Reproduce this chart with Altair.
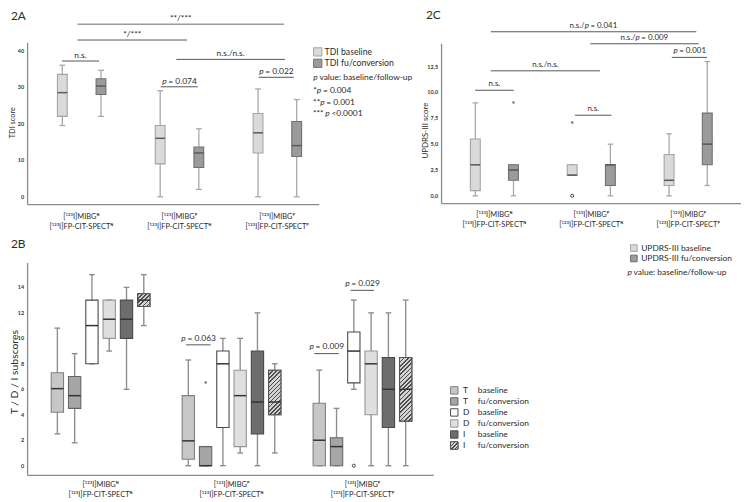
import altair as alt
import pandas as pd

# ============================================================ data
group_labels = [
    "[¹²³I]MIBGᴺ\n[¹²³I]FP-CIT-SPECTᴺ",
    "[¹²³I]MIBGᴾ\n[¹²³I]FP-CIT-SPECTᴺ",
    "[¹²³I]MIBGᴾ\n[¹²³I]FP-CIT-SPECTᴾ",
]

# five-number summaries per group: (min, Q1, median, Q3, max)
tdi_baseline = [[19.5, 22.0, 28.5, 33.5, 36.0], [0.0, 9.0, 16.0, 19.5, 29.0], [0.0, 12.0, 17.5, 22.8, 29.5]]
tdi_followup = [[22.0, 28.0, 30.3, 32.3, 34.6], [2.0, 8.0, 12.0, 13.6, 18.6], [0.0, 11.0, 14.0, 20.6, 26.6]]

updrs_baseline = [[0, 0.5, 3, 5.5, 9], [2, 2, 2, 3, 3], [0, 1, 1.5, 4, 6]]
updrs_followup = [[0, 1.5, 2.5, 3, 3], [0, 1, 3, 3, 5], [1, 3, 5, 8, 13]]

t_baseline = [[2.5, 4.2, 6.05, 7.3, 10.8], [0, 0.5, 1.95, 5.5, 8.3], [0, 0, 2.0, 4.9, 7.5]]
t_followup = [[1.8, 4.5, 5.5, 7.0, 8.8], [0, 0, 0, 1.5, 1.5], [0, 0, 1.5, 2.2, 4.5]]
d_baseline = [[8, 8, 11, 13, 15], [0, 3, 8, 9, 10], [6, 6.5, 9, 10.5, 13]]
d_followup = [[9, 10, 11.5, 13, 13], [1, 1.5, 5.5, 7.5, 10], [0, 4, 8, 9, 12]]
i_baseline = [[6, 10, 11.5, 13, 14], [0, 2.5, 5, 9, 12], [0, 3, 6, 8.5, 12]]
i_followup = [[11, 12.5, 13, 13.5, 15], [1, 4, 5, 7.5, 8], [0, 3.5, 6, 8.5, 13]]

tdi_series = ["TDI baseline", "TDI fu/conversion"]
updrs_series = ["UPDRS-III baseline", "UPDRS-III fu/conversion"]
sub_series = ["T baseline", "T fu/conversion", "D baseline", "D fu/conversion", "I baseline", "I fu/conversion"]

# single outlying values
updrs_out_group = [2, 2, 1]
updrs_out_series = ["UPDRS-III baseline", "UPDRS-III baseline", "UPDRS-III fu/conversion"]
updrs_out_value = [7, 0, 9]
updrs_out_kind = ["extreme", "outlier", "extreme"]
sub_out_group = [2, 3]
sub_out_series = ["T fu/conversion", "D baseline"]
sub_out_value = [6.5, 0]
sub_out_kind = ["extreme", "outlier"]

# significance brackets: label, from / to (group position), height (score)
tdi_sig_label = ["**/***", "*/***", "n.s.", "n.s./n.s.", "p = 0.074", "p = 0.022"]
tdi_sig_from = [0.96, 0.96, 0.80, 1.97, 1.81, 2.81]
tdi_sig_to = [3.07, 2.08, 1.18, 3.08, 2.19, 3.17]
tdi_sig_y = [47.2, 42.9, 37.15, 37.6, 30.1, 32.7]

updrs_sig_label = ["n.s./p = 0.041", "n.s./p = 0.009", "p = 0.001", "n.s./n.s.", "n.s.", "n.s."]
updrs_sig_from = [0.963, 1.99, 2.831, 0.963, 0.801, 1.831]
updrs_sig_to = [3.084, 3.108, 3.195, 2.09, 1.199, 2.209]
updrs_sig_y = [15.88, 14.72, 13.4, 12.1, 10.22, 7.8]

sub_sig_label = ["p = 0.063", "p = 0.009", "p = 0.029"]
sub_sig_from = [1.653, 2.632, 2.909]
sub_sig_to = [1.84, 2.819, 3.088]
sub_sig_y = [9.49, 8.8, 13.77]

tdi_ticks = [0, 10, 20, 30, 40]
sub_ticks = [0, 2, 4, 6, 8, 10, 12, 14]
updrs_ticks = [0, 2.5, 5, 7.5, 10, 12.5]

tdi_notes = ["p value: baseline/follow-up", "*p = 0.004", "**p = 0.001", "*** p <0.0001"]
updrs_notes = ["p value: baseline/follow-up"]
panel_letters = ["2A", "2B", "2C"]
axis_titles = ["TDI score", "T / D / I subscores", "UPDRS-III score"]

# ============================================================ styles / layout
W, H = 742, 494
FONT = "Lato"
TXT = "#2b2b2b"

all_series = tdi_series + updrs_series + sub_series
fills = ["#dadada", "#9b9b9b", "#d9d9d9", "#9b9b9b",
         "#c7c7c7", "#a6a6a6", "#ffffff", "#dfdfdf", "#6d6d6d", "#919191"]
strokes = ["#a4a4a4", "#6f6f6f", "#a4a4a4", "#6f6f6f",
           "#808080", "#666666", "#4a4a4a", "#969696", "#4a4a4a", "#555555"]
FILL = alt.Fill("series:N", scale=alt.Scale(domain=all_series, range=fills), legend=None)
STROKE = alt.Stroke("series:N", scale=alt.Scale(domain=all_series, range=strokes), legend=None)
HATCHED = "I fu/conversion"

SX = W / 750.0


def vx(r):
    return r * SX


def vy(r):
    return (r - 1) * 0.985


def lin(d, r):
    return alt.Scale(domain=list(d), range=list(r), zero=False, nice=False)


PX = lin([0, 750], [vx(0), vx(750)])
PY = lin([1, 495], [vy(1), vy(495)])


def make_panel(x1_ref, x3_ref, y0_ref, ytop_ref, ytop, frame):
    ix = lambda r: 1 + (r - x1_ref) * 2 / (x3_ref - x1_ref)
    iy = lambda r: (y0_ref - r) * ytop / (y0_ref - ytop_ref)
    left, right, bottom, top = frame
    return dict(
        xs=lin([1, 3], [vx(x1_ref), vx(x3_ref)]),
        ys=lin([0, ytop], [vy(y0_ref), vy(ytop_ref)]),
        ppu=(vx(x3_ref) - vx(x1_ref)) / 2,
        ppv=(vy(y0_ref) - vy(ytop_ref)) / ytop,
        x0=ix(left), x1=ix(right), y0=iy(bottom), y1=iy(top),
    )


PA = make_panel(75, 275, 192, 42, 40, (20, 318, 200, 34))
PB = make_panel(94.6, 362.2, 468, 285, 14, (20, 435, 478, 260))
PC = make_panel(497, 695, 191, 58.5, 12.5, (443, 749, 199, 35))


def hatch(w, h, period=3.0, dark="#4d4d4d", light="#d4d4d4"):
    """'////' stripes as a bounding-box linear gradient for a w x h pixel box"""
    r = h / w
    c = (1 + r) / (1 + r * r)          # gradient parameter runs 0..1 across the box
    n = max(1, round((w + h) / 1.4142 / period))
    stops = []
    for k in range(n):
        a, m, b = k / n, (k + 0.4) / n, (k + 1) / n
        stops += [{"offset": a, "color": dark}, {"offset": m, "color": dark},
                  {"offset": m, "color": light}, {"offset": b, "color": light}]
    return {"gradient": "linear", "x1": 0, "y1": 0, "x2": c, "y2": c * r, "stops": stops}


EM = {" ": 0.193, ".": 0.23, ",": 0.23, "/": 0.37, "=": 0.58, "*": 0.41, "<": 0.58, ":": 0.24,
      "-": 0.35, "n": 0.56, "s": 0.42, "p": 0.56, "v": 0.5, "a": 0.51, "l": 0.24, "u": 0.56,
      "e": 0.52, "b": 0.56, "i": 0.24, "f": 0.33, "o": 0.56, "w": 0.78, "c": 0.46, "r": 0.36}


def tw(s, size):
    return sum(EM.get(c, 0.58 if c.isdigit() else 0.55) for c in s) * size


def split_p(t):
    for key in ("p =", "p <", "p value"):
        i = t.find(key)
        if i >= 0:
            return t[:i], "p", t[i + 1:]
    return t, "", ""


def rich_rows(texts, xs_, ys_, size, ppu, centered=True):
    rows = []
    for t, x, y in zip(texts, xs_, ys_):
        pre, p, suf = split_p(t)
        if not p:
            rows.append(dict(y=y, xc=x, xpre=x, xp=x, xsuf=x, plain=t, pre="", p="", suf=""))
            continue
        wpre, wp, wsuf = tw(pre, size), tw("p", size) * 0.95, tw(suf, size)
        start = x - (wpre + wp + wsuf) / 2 / ppu if centered else x
        pre_s, suf_s = pre.rstrip(), suf.lstrip()
        xpre = start + tw(pre_s, size) / ppu
        xp = start + wpre / ppu
        xsuf = xp + (wp + tw(suf[: len(suf) - len(suf_s)], size)) / ppu
        rows.append(dict(y=y, xc=x, xpre=xpre, xp=xp, xsuf=xsuf, plain="", pre=pre_s, p=p, suf=suf_s))
    return pd.DataFrame(rows)


def text_layers(df, xs, ys, size, dy=0, color=TXT):
    base = alt.Chart(df)
    common = dict(font=FONT, fontSize=size, baseline="middle", dy=dy, color=color)
    Y = alt.Y("y:Q", scale=ys, axis=None)
    return [
        base.mark_text(align="center", **common).encode(x=alt.X("xc:Q", scale=xs, axis=None), y=Y, text="plain:N"),
        base.mark_text(align="right", **common).encode(x=alt.X("xpre:Q", scale=xs, axis=None), y=Y, text="pre:N"),
        base.mark_text(align="left", fontStyle="italic", **common).encode(
            x=alt.X("xp:Q", scale=xs, axis=None), y=Y, text="p:N"),
        base.mark_text(align="left", **common).encode(x=alt.X("xsuf:Q", scale=xs, axis=None), y=Y, text="suf:N"),
    ]


def axis_layers(P, ticks, label_expr, size=5.5, color="#8a8a8a"):
    frame = pd.DataFrame({"a": [P["x0"], P["x0"]], "b": [P["x0"], P["x1"]],
                          "c": [P["y0"], P["y0"]], "d": [P["y1"], P["y0"]]})
    lines = alt.Chart(frame).mark_rule(color=color, strokeWidth=1.3).encode(
        x=alt.X("a:Q", scale=P["xs"], axis=None), x2=alt.X2("b"),
        y=alt.Y("c:Q", scale=P["ys"], axis=None), y2=alt.Y2("d"))
    labels = alt.Chart(pd.DataFrame({"v": ticks})).transform_calculate(
        ax=str(P["x0"]), lab=label_expr
    ).mark_text(font=FONT, fontSize=size, fontWeight="bold", align="right", baseline="middle",
                dx=-3.5, color="#333333").encode(
        x=alt.X("ax:Q", scale=P["xs"], axis=None), y=alt.Y("v:Q", scale=P["ys"], axis=None), text="lab:N")
    return [lines, labels]


def box_layers(P, names, stats_lists, offsets, hw, cw, wcolor, mcolor, wsw=1.3):
    rows = []
    for k, (name, stats) in enumerate(zip(names, stats_lists)):
        for g, s in enumerate(stats):
            rows.append(dict(series=name, grp=g + 1, pos=g + 1 + offsets[k],
                             lo=s[0], q1=s[1], med=s[2], q3=s[3], hi=s[4]))
    df = pd.DataFrame(rows)
    base = alt.Chart(df).transform_calculate(
        bl=f"datum.pos - {hw}", br=f"datum.pos + {hw}", cl=f"datum.pos - {cw}", cr=f"datum.pos + {cw}")
    X = lambda f: alt.X(f"{f}:Q", scale=P["xs"], axis=None)
    Y = lambda f: alt.Y(f"{f}:Q", scale=P["ys"], axis=None)
    out = [
        base.mark_rule(color=wcolor, strokeWidth=wsw).encode(x=X("pos"), y=Y("lo"), y2=alt.Y2("hi")),
        base.mark_rule(color=wcolor, strokeWidth=wsw).encode(x=X("cl"), x2=alt.X2("cr"), y=Y("lo")),
        base.mark_rule(color=wcolor, strokeWidth=wsw).encode(x=X("cl"), x2=alt.X2("cr"), y=Y("hi")),
        base.mark_rect(strokeWidth=1.1).encode(x=X("bl"), x2=alt.X2("br"), y=Y("q1"), y2=alt.Y2("q3"),
                                               fill=FILL, stroke=STROKE),
    ]
    # striped overlay for the hatched series (one gradient per box, sized to the box)
    for r in rows:
        if r["series"] != HATCHED or r["q3"] <= r["q1"]:
            continue
        w_px, h_px = 2 * hw * P["ppu"], (r["q3"] - r["q1"]) * P["ppv"]
        out.append(base.transform_filter(
            f"datum.series == '{HATCHED}' && datum.grp == {r['grp']}"
        ).mark_rect(fill=hatch(w_px, h_px), stroke="#555555", strokeWidth=1.1).encode(
            x=X("bl"), x2=alt.X2("br"), y=Y("q1"), y2=alt.Y2("q3")))
    out.append(base.mark_rule(color=mcolor, strokeWidth=1.5).encode(x=X("bl"), x2=alt.X2("br"), y=Y("med")))
    return out


def outlier_layers(P, names, offsets, groups, series, values, kinds):
    off = dict(zip(names, offsets))
    df = pd.DataFrame({"pos": [g + off[s] for g, s in zip(groups, series)], "v": values, "kind": kinds})
    X = alt.X("pos:Q", scale=P["xs"], axis=None)
    Y = alt.Y("v:Q", scale=P["ys"], axis=None)
    star = alt.Chart(df).transform_filter("datum.kind == 'extreme'").mark_text(
        text="*", font=FONT, fontSize=9, baseline="middle", dy=2, color="#333333").encode(x=X, y=Y)
    circ = alt.Chart(df).transform_filter("datum.kind == 'outlier'").mark_point(
        shape="circle", filled=False, size=10, strokeWidth=1, color="#444444", opacity=1).encode(x=X, y=Y)
    return [star, circ]


def sig_layers(P, labels, a, b, ys, size, dy, color="#555555", light=()):
    df = pd.DataFrame({"a": a, "b": b, "y": ys, "k": list(range(len(a)))})
    X = alt.X("a:Q", scale=P["xs"], axis=None)
    Y = alt.Y("y:Q", scale=P["ys"], axis=None)
    lt = "[" + ",".join(str(i) for i in light) + "]"
    out = [
        alt.Chart(df).transform_filter(f"indexof({lt}, datum.k) < 0").mark_rule(
            color=color, strokeWidth=1).encode(x=X, x2=alt.X2("b"), y=Y),
        alt.Chart(df).transform_filter(f"indexof({lt}, datum.k) >= 0").mark_rule(
            color="#9c9c9c", strokeWidth=1.6).encode(x=X, x2=alt.X2("b"), y=Y),
    ]
    mids = [(u + v) / 2 for u, v in zip(a, b)]
    return out + text_layers(rich_rows(labels, mids, ys, size, P["ppu"]), P["xs"], P["ys"], size, dy)


def category_layer(P, top_ref, lh, size=7.5):
    df = pd.DataFrame({"pos": [1, 2, 3], "label": group_labels})
    return alt.Chart(df).mark_text(font=FONT, fontSize=size, lineBreak="\n", lineHeight=lh, baseline="top",
                                   align="center", color=TXT).encode(
        x=alt.X("pos:Q", scale=P["xs"], axis=None), y=alt.value(vy(top_ref)), text="label:N")


def legend_layers(names, sq_x, text_x, y_first, y_last, size, sq, split=False, state_x=None):
    df = pd.DataFrame({"series": names, "i": list(range(len(names)))})
    ys = lin([0, len(names) - 1], [vy(y_first), vy(y_last)])
    Y = alt.Y("i:Q", scale=ys, axis=None)
    base = alt.Chart(df).transform_calculate(
        sx=str(sq_x), tx=str(text_x), stx=str(state_x or text_x),
        letter="split(datum.series, ' ')[0]", state="substring(datum.series, 2)")
    out = [base.mark_square(size=sq, opacity=1, strokeWidth=1).encode(
        x=alt.X("sx:Q", scale=PX, axis=None), y=Y, fill=FILL, stroke=STROKE)]
    if HATCHED in names:
        side = sq ** 0.5
        out.append(base.transform_filter(f"datum.series == '{HATCHED}'").mark_square(
            size=sq, opacity=1, strokeWidth=1, fill=hatch(side, side, period=2.4), stroke="#555555").encode(
            x=alt.X("sx:Q", scale=PX, axis=None), y=Y))
    common = dict(font=FONT, fontSize=size, align="left", baseline="middle", color=TXT)
    if split:
        out.append(base.mark_text(**common).encode(x=alt.X("tx:Q", scale=PX, axis=None), y=Y, text="letter:N"))
        out.append(base.mark_text(**common).encode(x=alt.X("stx:Q", scale=PX, axis=None), y=Y, text="state:N"))
    else:
        out.append(base.mark_text(**common).encode(x=alt.X("tx:Q", scale=PX, axis=None), y=Y, text="series:N"))
    return out


layers = []

# ---------------- axes
num_lab = "format(datum.v, 'd')"
comma_lab = "replace(format(datum.v, '.1f'), '.', ',')"
layers += axis_layers(PA, tdi_ticks, num_lab)
layers += axis_layers(PB, sub_ticks, num_lab)
layers += axis_layers(PC, updrs_ticks, comma_lab)

# ---------------- boxes
layers += box_layers(PA, tdi_series, [tdi_baseline, tdi_followup], [-0.195, 0.2], 0.05, 0.03, "#a8a8a8", "#5a5a5a")
layers += box_layers(PC, updrs_series, [updrs_baseline, updrs_followup], [-0.197, 0.197], 0.051, 0.028,
                     "#a8a8a8", "#555555")
sub_offsets = [-0.33, -0.198, -0.066, 0.066, 0.198, 0.33]
layers += box_layers(PB, sub_series, [t_baseline, t_followup, d_baseline, d_followup, i_baseline, i_followup],
                     sub_offsets, 0.047, 0.022, "#8e8e8e", "#333333", wsw=1.4)
layers += outlier_layers(PC, updrs_series, [-0.197, 0.197], updrs_out_group, updrs_out_series,
                         updrs_out_value, updrs_out_kind)
layers += outlier_layers(PB, sub_series, sub_offsets, sub_out_group, sub_out_series, sub_out_value, sub_out_kind)

# ---------------- significance brackets
layers += sig_layers(PA, tdi_sig_label, tdi_sig_from, tdi_sig_to, tdi_sig_y, 8.5, -6.3, light=(0,))
layers += sig_layers(PC, updrs_sig_label, updrs_sig_from, updrs_sig_to, updrs_sig_y, 8, -6)
layers += sig_layers(PB, sub_sig_label, sub_sig_from, sub_sig_to, sub_sig_y, 8.5, -7.3)

# ---------------- category labels
layers.append(category_layer(PA, 208.3, 11))
layers.append(category_layer(PC, 206.6, 10))
layers.append(category_layer(PB, 484.0, 10.3))

# ---------------- legends
layers += legend_layers(tdi_series, 316.5, 323.5, 43.3, 55, 8.8, 70)
layers += legend_layers(updrs_series, 639.5, 647, 244.7, 255.3, 8.5, 45)
layers += legend_layers(sub_series, 456, 465, 390.7, 447.3, 8.5, 56, split=True, state_x=480)
layers += text_layers(rich_rows(tdi_notes, [312] * 4, [69.3, 82.3, 94.3, 106], 8.5, SX, centered=False),
                      PX, PY, 8.5)
layers += text_layers(rich_rows(updrs_notes, [633], [269], 8.5, SX, centered=False), PX, PY, 8.5)

# ---------------- panel letters and axis titles
letters = pd.DataFrame({"t": panel_letters, "x": [3, 3, 427], "y": [7, 241, 5]})
layers.append(alt.Chart(letters).mark_text(font=FONT, fontSize=12, align="left", baseline="middle",
                                           color=TXT).encode(
    x=alt.X("x:Q", scale=PX, axis=None), y=alt.Y("y:Q", scale=PY, axis=None), text="t:N"))
titles = pd.DataFrame({"t": axis_titles, "x": [5.5, 7.2, 427], "y": [116, 372, 124], "s": [7.5, 10.5, 8]})
for k in range(3):
    layers.append(alt.Chart(titles.iloc[[k]]).mark_text(
        font=FONT, fontSize=float(titles.s[k]), angle=270, align="center", baseline="middle", color=TXT).encode(
        x=alt.X("x:Q", scale=PX, axis=None), y=alt.Y("y:Q", scale=PY, axis=None), text="t:N"))

chart = alt.layer(*layers).resolve_scale(x="independent", y="independent").properties(
    width=W, height=H, autosize=alt.AutoSizeParams(type="none"), padding=0
).configure_view(stroke=None)

chart.save("out.html", embed_options={"renderer": "svg", "actions": False})
